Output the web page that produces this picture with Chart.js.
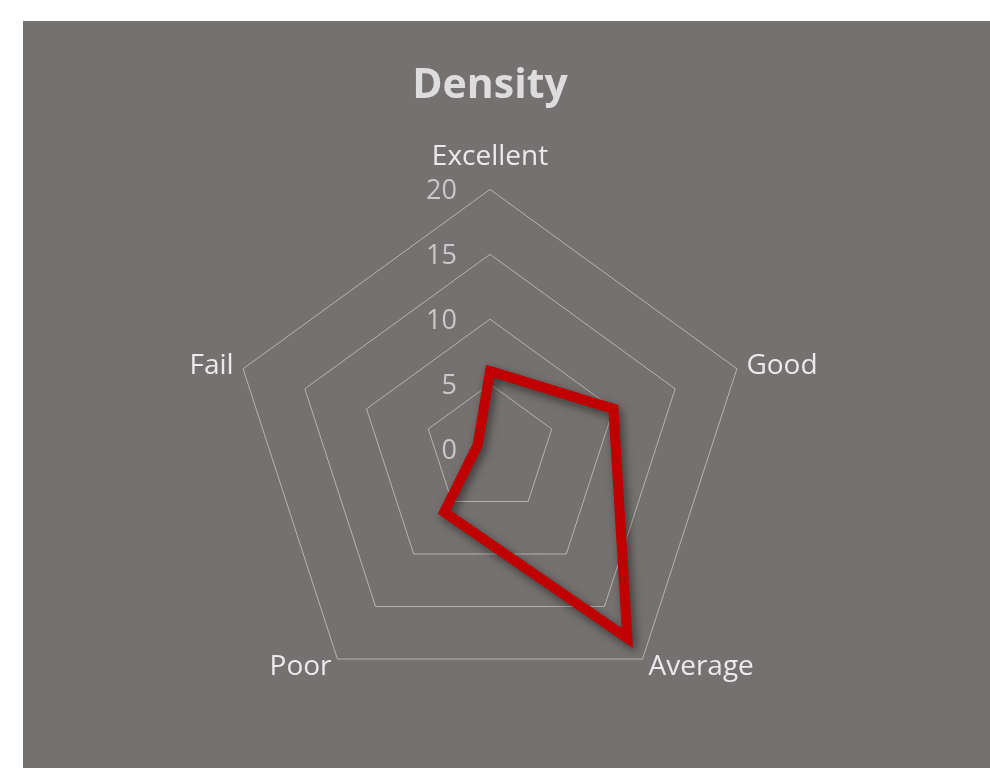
<!DOCTYPE html>
<html>
<head>
<meta charset="utf-8">
<script src="https://cdn.jsdelivr.net/npm/chart.js@4.4.0/dist/chart.umd.min.js"></script>
<style>
  body { margin: 0; background: #fff; }
  #panel { position: absolute; left: 23px; top: 21px; width: 967px; height: 747px; background: #767171; }
  #wrap { position: absolute; left: 0; top: 0; width: 934px; height: 747px; }
</style>
</head>
<body>
<div id="panel"><div id="wrap"><canvas id="myChart"></canvas></div></div>
<script>
const categories = ["Excellent", "Good", "Average", "Poor", "Fail"];
const densityValues = [6, 10, 18, 6, 1];
const tickValues = [0, 5, 10, 15, 20];

const fontFam = "'Open Sans', 'Noto Sans', sans-serif";

// red line with a soft drop shadow
const shadowPlugin = {
  id: "shadow",
  beforeDatasetDraw(chart) {
    const c = chart.ctx;
    c.save();
    c.shadowColor = "rgba(0,0,0,0.5)";
    c.shadowBlur = 10;
    c.shadowOffsetX = 3;
    c.shadowOffsetY = 4;
  },
  afterDatasetDraw(chart) {
    chart.ctx.restore();
  }
};

// tick labels to the left of the vertical axis, category labels beside the corners
const labelPlugin = {
  id: "sideLabels",
  afterDraw(chart) {
    const s = chart.scales.r;
    const c = chart.ctx;
    c.save();
    c.font = "27px " + fontFam;
    c.fillStyle = "#c9c7c7";
    c.textAlign = "right";
    c.textBaseline = "middle";
    tickValues.forEach(v => {
      const d = s.getDistanceFromCenterForValue(v);
      c.fillText(String(v), s.xCenter - 33, s.yCenter - d + 2);
    });

    c.font = "28px " + fontFam;
    c.fillStyle = "#ebeaea";
    categories.forEach((lab, i) => {
      const p = s.getPointPosition(i, s.drawingArea + 10);
      let y = p.y;
      if (p.x > s.xCenter + 5) c.textAlign = "left";
      else if (p.x < s.xCenter - 5) c.textAlign = "right";
      else { c.textAlign = "center"; y -= 22; }
      c.fillText(lab, p.x, y);
    });
    c.restore();
  }
};

const ctx = document.getElementById("myChart").getContext("2d");
const chart = new Chart(ctx, {
  type: "radar",
  data: {
    labels: categories,
    datasets: [{
      label: "Density",
      data: densityValues,
      borderColor: "#c00000",
      borderWidth: 10,
      borderJoinStyle: "miter",
      fill: false,
      pointRadius: 0,
      tension: 0
    }]
  },
  options: {
    responsive: true,
    maintainAspectRatio: false,
    animation: false,
    layout: { padding: { top: 0, bottom: 38, left: 10, right: 10 } },
    plugins: {
      legend: { display: false },
      tooltip: { enabled: false },
      title: {
        display: true,
        text: "Density",
        color: "#dedddd",
        font: { family: fontFam, size: 41, weight: "bold" },
        padding: { top: 41, bottom: 20 }
      }
    },
    scales: {
      r: {
        min: 0,
        max: 20,
        ticks: { stepSize: 5, display: false },
        angleLines: { display: false },
        grid: { color: "rgba(225,222,222,0.6)", lineWidth: 1, borderDash: [1, 1] },
        pointLabels: {
          // kept for the layout only, drawn by the plugin above
          color: "rgba(0,0,0,0)",
          font: { family: fontFam, size: 26 },
          padding: 8
        }
      }
    }
  },
  plugins: [shadowPlugin, labelPlugin]
});
</script>
</body>
</html>
